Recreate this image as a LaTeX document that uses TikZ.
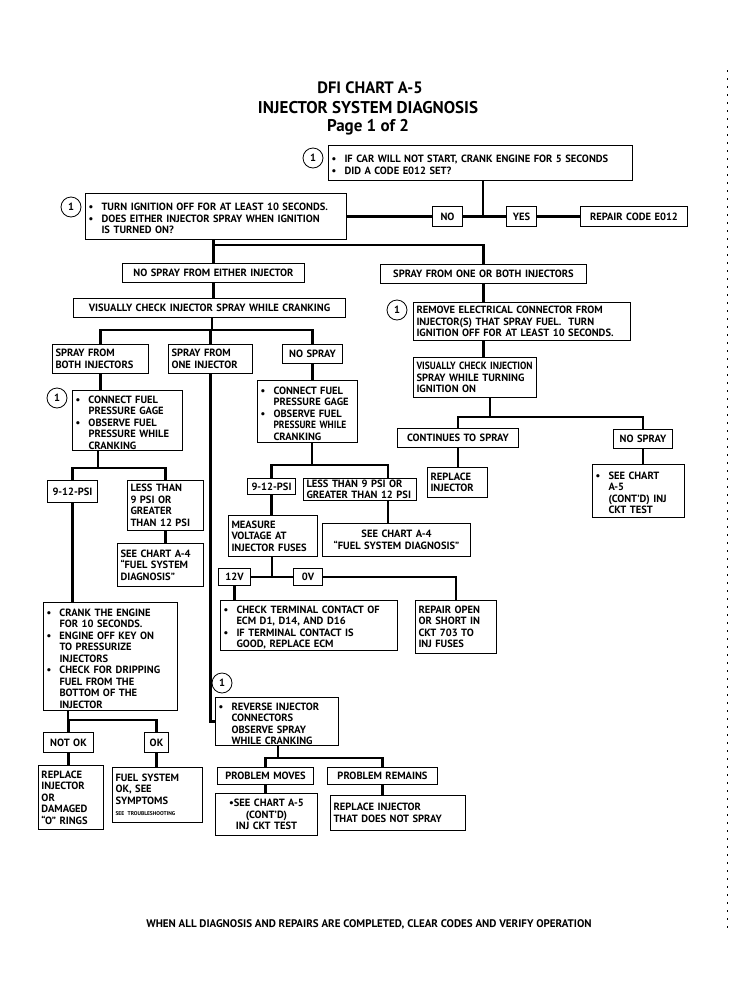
\documentclass[tikz,border=0pt]{standalone}
\usepackage{fontspec}
\setmainfont{PT Sans}
\usepackage{tikz}
\usetikzlibrary{calc}

\newcommand{\boxfont}{\fontsize{10.5}{11.5}\selectfont\bfseries\hyphenpenalty=10000\exhyphenpenalty=10000}
\newcommand{\bul}{\par\hangindent=13pt\hangafter=1\noindent\makebox[13pt][l]{\textbullet}}
\newcommand{\tight}[1]{\mbox{\addfontfeature{FakeStretch=0.9}#1}}

\tikzset{
  boxat/.code n args={4}{%
    \pgfmathsetmacro\bw{#3-#1}\pgfmathsetmacro\bh{#4-#2}\pgfmathsetmacro\tw{#3-#1-6}%
    \tikzset{at={(#1,#2)}, anchor=north west, minimum width=\bw pt,
      minimum height=\bh pt, text width=\tw pt}},
  box/.style={draw, line width=1pt, inner xsep=3pt, inner ysep=1pt,
    font=\boxfont, align=left},
  tag/.style={box, align=center},
  conn/.style={line width=2.8pt},
  numcirc/.style={draw, circle, line width=0.8pt, minimum size=20pt,
    inner sep=0pt, font=\boxfont}
}

\begin{document}
\begin{tikzpicture}[x=1pt, y=-1pt]
  \useasboundingbox (0,0) rectangle (740,1007);

  % Title
  \node[font=\fontsize{16.5}{18}\selectfont\bfseries] (title) at (370,88) {DFI CHART A-5};
  \node[font=\fontsize{17}{18}\selectfont\bfseries] (subtitle) at (368,108) {INJECTOR SYSTEM DIAGNOSIS};
  \node[font=\fontsize{17}{18}\selectfont\bfseries] (page) at (368,127) {Page 1 of 2};

  % Top questions
  \node[numcirc] (c1) at (313,158) {1};
  \node[box, boxat={328}{145}{632}{180}] (qA) {\bul IF CAR WILL NOT START, CRANK ENGINE FOR 5 SECONDS \bul DID A CODE E012 SET?\par};
  \node[numcirc] (c2) at (71,207) {1};
  \node[box, boxat={85}{193}{346}{239}] (qB) {\bul TURN IGNITION OFF FOR AT LEAST 10 SECONDS. \bul DOES EITHER INJECTOR SPRAY WHEN IGNITION\newline IS TURNED ON?\par};
  \node[tag, boxat={432}{206}{462}{226}] (no) {NO};
  \node[tag, boxat={506}{206}{536}{226}] (yes) {YES};
  \node[tag, boxat={580}{206}{687}{226}] (rep012) {REPAIR CODE E012};

  % Left half
  \node[tag, boxat={122}{263}{304}{282}] (noeither) {NO SPRAY FROM EITHER INJECTOR};
  \node[tag, boxat={73}{298}{345}{317}] (vischeck) {VISUALLY CHECK INJECTOR SPRAY WHILE CRANKING};
  \node[box, boxat={52}{344}{148}{373}] (both) {SPRAY FROM\\BOTH INJECTORS};
  \node[box, boxat={168}{344}{252}{373}] (one) {SPRAY FROM\\ONE INJECTOR};
  \node[tag, boxat={282}{344}{342}{363}] (nospray) {NO SPRAY};

  \node[numcirc] (c3) at (57,398) {1};
  \node[box, boxat={72}{390}{182}{447}] (gageL) {\bul CONNECT FUEL\newline PRESSURE GAGE \bul OBSERVE FUEL\newline PRESSURE WHILE\newline CRANKING\par};
  \node[tag, boxat={47}{480}{97}{502}] (psiL) {9-12-PSI};
  \node[box, boxat={127}{480}{203}{530}] (lessL) {LESS THAN\\9 PSI OR\\GREATER\\THAN 12 PSI};
  \node[box, boxat={117}{543}{203}{586}] (seeA4L) {SEE CHART A-4\\``FUEL SYSTEM\\DIAGNOSIS''};
  \node[box, boxat={43}{602}{177}{710}] (crank) {\bul CRANK THE ENGINE\newline FOR 10 SECONDS. \bul ENGINE OFF KEY ON\newline TO PRESSURIZE\newline INJECTORS \bul CHECK FOR DRIPPING\newline FUEL FROM THE\newline BOTTOM OF THE\newline INJECTOR\par};
  \node[tag, boxat={43}{732}{93}{752}] (notok) {NOT OK};
  \node[tag, boxat={144}{732}{168}{752}] (ok) {OK};
  \node[box, boxat={38}{765}{103}{829}] (replo) {REPLACE\\INJECTOR\\OR\\DAMAGED\\``O'' RINGS};
  \node[box, boxat={112}{767}{202}{822}] (fuelsys) {FUEL SYSTEM\\OK, SEE\\SYMPTOMS\\{\fontsize{5.5}{7}\selectfont SEE TROUBLESHOOTING}};

  \node[box, boxat={257}{380}{357}{442}] (gageR) {\bul CONNECT FUEL\newline PRESSURE GAGE \bul OBSERVE FUEL\newline \tight{PRESSURE WHILE}\newline CRANKING\par};
  \node[tag, boxat={247}{478}{295}{494}] (psiR) {9-12-PSI};
  \node[box, boxat={303}{478}{416}{500}] (lessR) {LESS THAN 9 PSI OR\\GREATER THAN 12 PSI};
  \node[box, boxat={228}{515}{317}{556}] (measure) {MEASURE\\VOLTAGE AT\\INJECTOR FUSES};
  \node[tag, boxat={322}{523}{470}{556}] (seeA4R) {SEE CHART A-4\\``FUEL SYSTEM DIAGNOSIS''};
  \node[tag, boxat={218}{568}{250}{585}] (v12) {12V};
  \node[tag, boxat={293}{568}{322}{585}] (v0) {0V};
  \node[box, boxat={220}{600}{397}{644}] (checkterm) {\bul CHECK TERMINAL CONTACT OF\newline ECM D1, D14, AND D16 \bul IF TERMINAL CONTACT IS\newline GOOD, REPLACE ECM\par};
  \node[box, boxat={415}{600}{496}{653}] (repopen) {REPAIR OPEN\\OR SHORT IN\\CKT 703 TO\\INJ FUSES};

  \node[numcirc] (c5) at (222,683) {1};
  \node[box, boxat={215}{697}{338}{744}] (reverse) {\bul REVERSE INJECTOR\newline CONNECTORS\newline OBSERVE SPRAY\newline WHILE CRANKING\par};
  \node[tag, boxat={217}{767}{313}{784}] (moves) {PROBLEM MOVES};
  \node[tag, boxat={327}{767}{437}{784}] (remains) {PROBLEM REMAINS};
  \node[tag, boxat={215}{793}{317}{835}] (seeA5B) {\textbullet SEE CHART A-5\\(CONT'D)\\INJ CKT TEST};
  \node[box, boxat={330}{795}{465}{830}] (replnot) {REPLACE INJECTOR\\THAT DOES NOT SPRAY};

  % Right half
  \node[tag, boxat={380}{264}{586}{283}] (oneboth) {SPRAY FROM ONE OR BOTH INJECTORS};
  \node[numcirc] (c4) at (397,310) {1};
  \node[box, boxat={413}{302}{630}{340}] (remove) {REMOVE ELECTRICAL CONNECTOR FROM\\INJECTOR(S) THAT SPRAY FUEL.\ \ TURN\\\mbox{IGNITION OFF FOR AT LEAST 10 SECONDS.}};
  \node[box, boxat={413}{357}{536}{397}] (vci) {\tight{VISUALLY CHECK INJECTION}\\SPRAY WHILE TURNING\\IGNITION ON};
  \node[tag, boxat={397}{428}{518}{447}] (contin) {CONTINUES TO SPRAY};
  \node[tag, boxat={613}{429}{672}{448}] (nosprayR) {NO SPRAY};
  \node[box, boxat={427}{467}{487}{497}] (replinj) {REPLACE\\INJECTOR};
  \node[box, boxat={592}{464}{684}{517}] (seeA5R) {\bul SEE CHART\newline A-5\newline (CONT'D) INJ\newline CKT TEST\par};

  % Footer
  \node[font=\fontsize{11}{12}\selectfont\bfseries] (footer) at (369,924) {WHEN ALL DIAGNOSIS AND REPAIRS ARE COMPLETED, CLEAR CODES AND VERIFY OPERATION};

  % Junctions
  \coordinate (jtop) at (483,216);
  \coordinate (jspray) at (213,245);
  \coordinate (jvis) at (212,330);
  \coordinate (jgL) at (98,468);
  \coordinate (jcr) at (68,720);
  \coordinate (jrev) at (278,758);
  \coordinate (jgR) at (312,465);
  \coordinate (jlR) at (388,465);
  \coordinate (jv) at (272,577);
  \coordinate (jvci) at (490,417);

  % Connectors, top
  \draw[conn] (qB.east) -- (no.west);
  \draw[conn] (no.east) -- (yes.west);
  \draw[conn] (yes.east) -- (rep012.west);
  \draw[conn] (qA.south -| jtop) -- (jtop);
  \draw[conn] (qB.south -| noeither.north) -- (noeither.north);
  \draw[conn] (noeither.north |- jspray) -| (oneboth.north);

  % Connectors, left half
  \draw[conn] (noeither.south) -- (noeither.south |- vischeck.north);
  \draw[conn] (vischeck.south -| jvis) -- (jvis);
  \draw[conn] (both.north) |- (jvis) -| (nospray.north);
  \draw[conn] (one.north |- jvis) -- (one.north);
  \draw[conn] (both.south) -- (both.south |- gageL.north);
  \draw[conn] (gageL.south -| jgL) -- (jgL);
  \draw[conn] (psiL.north) |- (jgL) -| (lessL.north);
  \draw[conn] (lessL.south) -- (lessL.south |- seeA4L.north);
  \draw[conn] (psiL.south) -- (psiL.south |- crank.north);
  \draw[conn] (crank.south -| jcr) -- (jcr);
  \draw[conn] (notok.north) |- (jcr) -| (ok.north);
  \draw[conn] (notok.south) -- (notok.south |- replo.north);
  \draw[conn] (ok.south) -- (ok.south |- fuelsys.north);
  \draw[conn] (one.south) |- (reverse.west);
  \draw[conn] (reverse.south -| jrev) -- (jrev);
  \draw[conn] (moves.north) |- (jrev) -| (remains.north);
  \draw[conn] (moves.south) -- (moves.south |- seeA5B.north);
  \draw[conn] (remains.south) -- (remains.south |- replnot.north);

  % Connectors, middle
  \draw[conn] (nospray.south) -- (nospray.south |- gageR.north);
  \draw[conn] (gageR.south -| jgR) -- (jgR);
  \draw[conn] (psiR.north) |- (jgR) -- (jlR) -- (jlR |- lessR.north);
  \draw[conn] (psiR.south) -- (psiR.south |- measure.north);
  \draw[conn] (lessR.south -| jlR) -- (jlR |- seeA4R.north);
  \draw[conn] (measure.south -| jv) -- (jv);
  \draw[conn] (v12.east) -- (v0.west);
  \draw[conn] (v0.east) -| (repopen.north);
  \draw[conn] (v12.south) -- (v12.south |- checkterm.north);

  % Connectors, right half
  \draw[conn] (oneboth.south) -- (oneboth.south |- remove.north);
  \draw[conn] (oneboth.south |- remove.south) -- (oneboth.south |- vci.north);
  \draw[conn] (vci.south -| jvci) -- (jvci);
  \draw[conn] (contin.north) |- (jvci) -| (nosprayR.north);
  \draw[conn] (contin.south) -- (contin.south |- replinj.north);
  \draw[conn] (nosprayR.south) -- (nosprayR.south |- seeA5R.north);

  % Page edge
  \draw[line width=0.6pt, dash pattern=on 2pt off 6pt] (727,70) -- (727,930);
\end{tikzpicture}
\end{document}
